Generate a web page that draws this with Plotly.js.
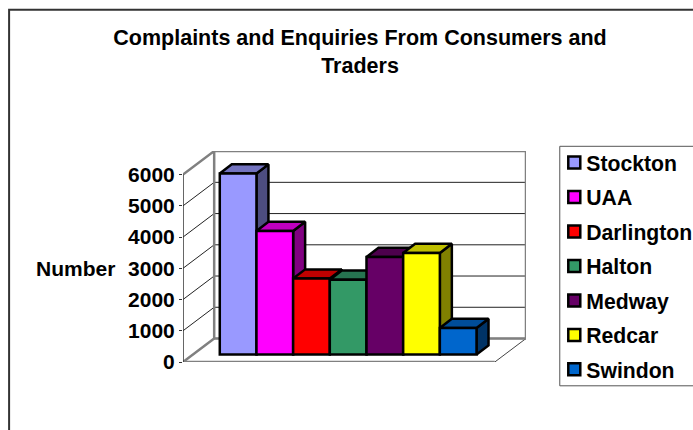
<!DOCTYPE html>
<html>
<head>
<meta charset="utf-8">
<script src="https://cdn.plot.ly/plotly-3.0.1.min.js"></script>
<style>html,body{margin:0;padding:0;background:#fff;overflow:hidden}</style>
</head>
<body>
<div id="chart" style="width:693px;height:430px"></div>
<script>
var categories = ["Stockton","UAA","Darlington","Halton","Medway","Redcar","Swindon"];
var values = [5796,3958,2434,2400,3125,3253,852];
var frontColors = ["#9999FF","#FF00FF","#FF0000","#339966","#660066","#FFFF00","#0066CC"];
var topColors = ["#7373BF","#BF00BF","#BF0000","#267350","#4D004D","#BFBF00","#004D99"];
var sideColors = ["#4D4D80","#800080","#800000","#1A4D33","#330033","#808000","#003366"];
var tickValues = [0,1000,2000,3000,4000,5000,6000];

var FONT = "Liberation Sans, Arial, sans-serif";
var TEXT_SIZE = 21.2;
var W = 693, H = 430;
var L = 182.5, R = 525.7, T = 150.7, B = 361.7;
var pxPerX = 36.7, pxPerV = 187.4 / 6000;
var xMin = (L - 237.65) / pxPerX, xMax = (R - 237.65) / pxPerX, vMax = (B - T) / pxPerV;
var wallDX = 31.2 / pxPerX, wallDV = 23.5 / pxPerV;
var barDX = 12 / pxPerX, barDV = 9.2 / pxPerV, barBase = 7.4 / pxPerV;
var backL = xMin + wallDX, frontR = xMax - wallDX;

function line(xs, ys, color, width, fill) {
  return {type:"scatter", mode:"lines", x:xs, y:ys, xaxis:"x", yaxis:"y", showlegend:false, hoverinfo:"skip",
    cliponaxis:false, line:{color:color, width:width, simplify:false},
    fill: fill ? "toself" : "none", fillcolor: fill || undefined};
}

var traces = [];
// side-wall and back-wall gridlines
var gx = [], gy = [];
tickValues.slice(1, 6).forEach(function (v) {
  gx.push(xMin, backL, xMax, null);
  gy.push(v, v + wallDV, v + wallDV, null);
});
traces.push(line(gx, gy, "#222222", 1));
// walls and floor
traces.push(line([xMin, backL, xMax], [0, wallDV, wallDV], "#A6A6A6", 1.5));
traces.push(line([frontR, xMax], [0, wallDV], "#444444", 1));
traces.push(line([xMin, backL, backL, xMax, xMax], [6000, 6000 + wallDV, wallDV, wallDV, 6000 + wallDV], "#808080", 2.5));
traces.push(line([backL, xMax], [6000 + wallDV, 6000 + wallDV], "#808080", 2.5));
traces.push(line([xMin, backL], [0, wallDV], "#808080", 2.5));
traces.push(line([xMin, frontR], [0, 0], "#808080", 2.5));
traces.push(line([xMin, xMin], [0, 6000], "#333333", 1.5));

// depth faces, left to right
categories.forEach(function (c, i) {
  var x0 = i - 0.5, x1 = i + 0.5, lo = barBase, hi = barBase + values[i];
  traces.push(line([x1, x1 + barDX, x1 + barDX, x1, x1], [lo, lo + barDV, hi + barDV, hi, lo], "#000000", 2.5, sideColors[i]));
  traces.push(line([x0, x1, x1 + barDX, x0 + barDX, x0], [hi, hi, hi + barDV, hi + barDV, hi], "#000000", 2.5, topColors[i]));
});
// front faces on an overlaid subplot, so they sit above all depth faces
categories.forEach(function (c, i) {
  traces.push({type:"bar", name:c, x:[i], y:[values[i]], base:[barBase], width:1, xaxis:"x2", yaxis:"y2",
    legendgroup:c, cliponaxis:false, hoverinfo:"name+y",
    marker:{color:frontColors[i], line:{color:"#000000", width:2.5}}});
});

var layout = {
  width:W, height:H, autosize:false, paper_bgcolor:"#fff", plot_bgcolor:"rgba(0,0,0,0)",
  margin:{l:L, r:W - R, t:T, b:H - B, pad:0, autoexpand:false},
  barmode:"overlay", showlegend:true,
  font:{family:FONT, color:"#000"},
  title:{text:"Complaints and Enquiries From Consumers and<br>Traders", x:360 / W, xref:"container", xanchor:"center",
    y:1 - 45 / H, yref:"container", yanchor:"top", font:{family:FONT, size:21.5, weight:700, color:"#000"}},
  xaxis:{visible:false, range:[xMin, xMax], fixedrange:true},
  xaxis2:{visible:false, range:[xMin, xMax], overlaying:"x", fixedrange:true},
  yaxis:{range:[0, vMax], tickmode:"array", tickvals:tickValues, ticks:"outside", ticklen:3, tickwidth:1, tickcolor:"#333",
    showgrid:false, zeroline:false, showline:false, fixedrange:true,
    tickfont:{family:FONT, size:21, weight:700, color:"#000"}},
  yaxis2:{visible:false, range:[0, vMax], overlaying:"y", fixedrange:true},
  legend:{x:(554 - L) / (R - L), xref:"paper", xanchor:"left", y:(B - 142) / (B - T), yanchor:"top",
    borderwidth:0, bgcolor:"rgba(0,0,0,0)", tracegroupgap:3.9, entrywidthmode:"pixels", entrywidth:92, maxheight:290,
    font:{family:FONT, size:TEXT_SIZE, weight:700, color:"#000"}},
  annotations:[{text:"Number", xref:"paper", yref:"paper", x:(74.5 - L) / (R - L), y:(B - 268) / (B - T), showarrow:false,
    xanchor:"center", yanchor:"middle", font:{family:FONT, size:21, weight:700, color:"#000"}}],
  shapes:[
    {type:"rect", layer:"below", xref:"paper", yref:"paper", x0:(8.5 - L) / (R - L), x1:(720 - L) / (R - L), y0:(B - 9.5) / (B - T), y1:(B - 460) / (B - T),
      line:{color:"#333333", width:2}, fillcolor:"rgba(0,0,0,0)"},
    {type:"rect", layer:"below", xref:"paper", yref:"paper", x0:(559.5 - L) / (R - L), x1:(720 - L) / (R - L), y0:(B - 146) / (B - T), y1:(B - 385.5) / (B - T),
      line:{color:"#555555", width:1}, fillcolor:"rgba(0,0,0,0)"}
  ]
};

Plotly.newPlot("chart", traces, layout, {displayModeBar:false, staticPlot:true}).then(function (gd) {
  // tighten the gap between swatch and label, as in the reference
  gd.querySelectorAll(".legendtext").forEach(function (t) { t.setAttribute("x", 32); });
});
</script>
</body>
</html>
